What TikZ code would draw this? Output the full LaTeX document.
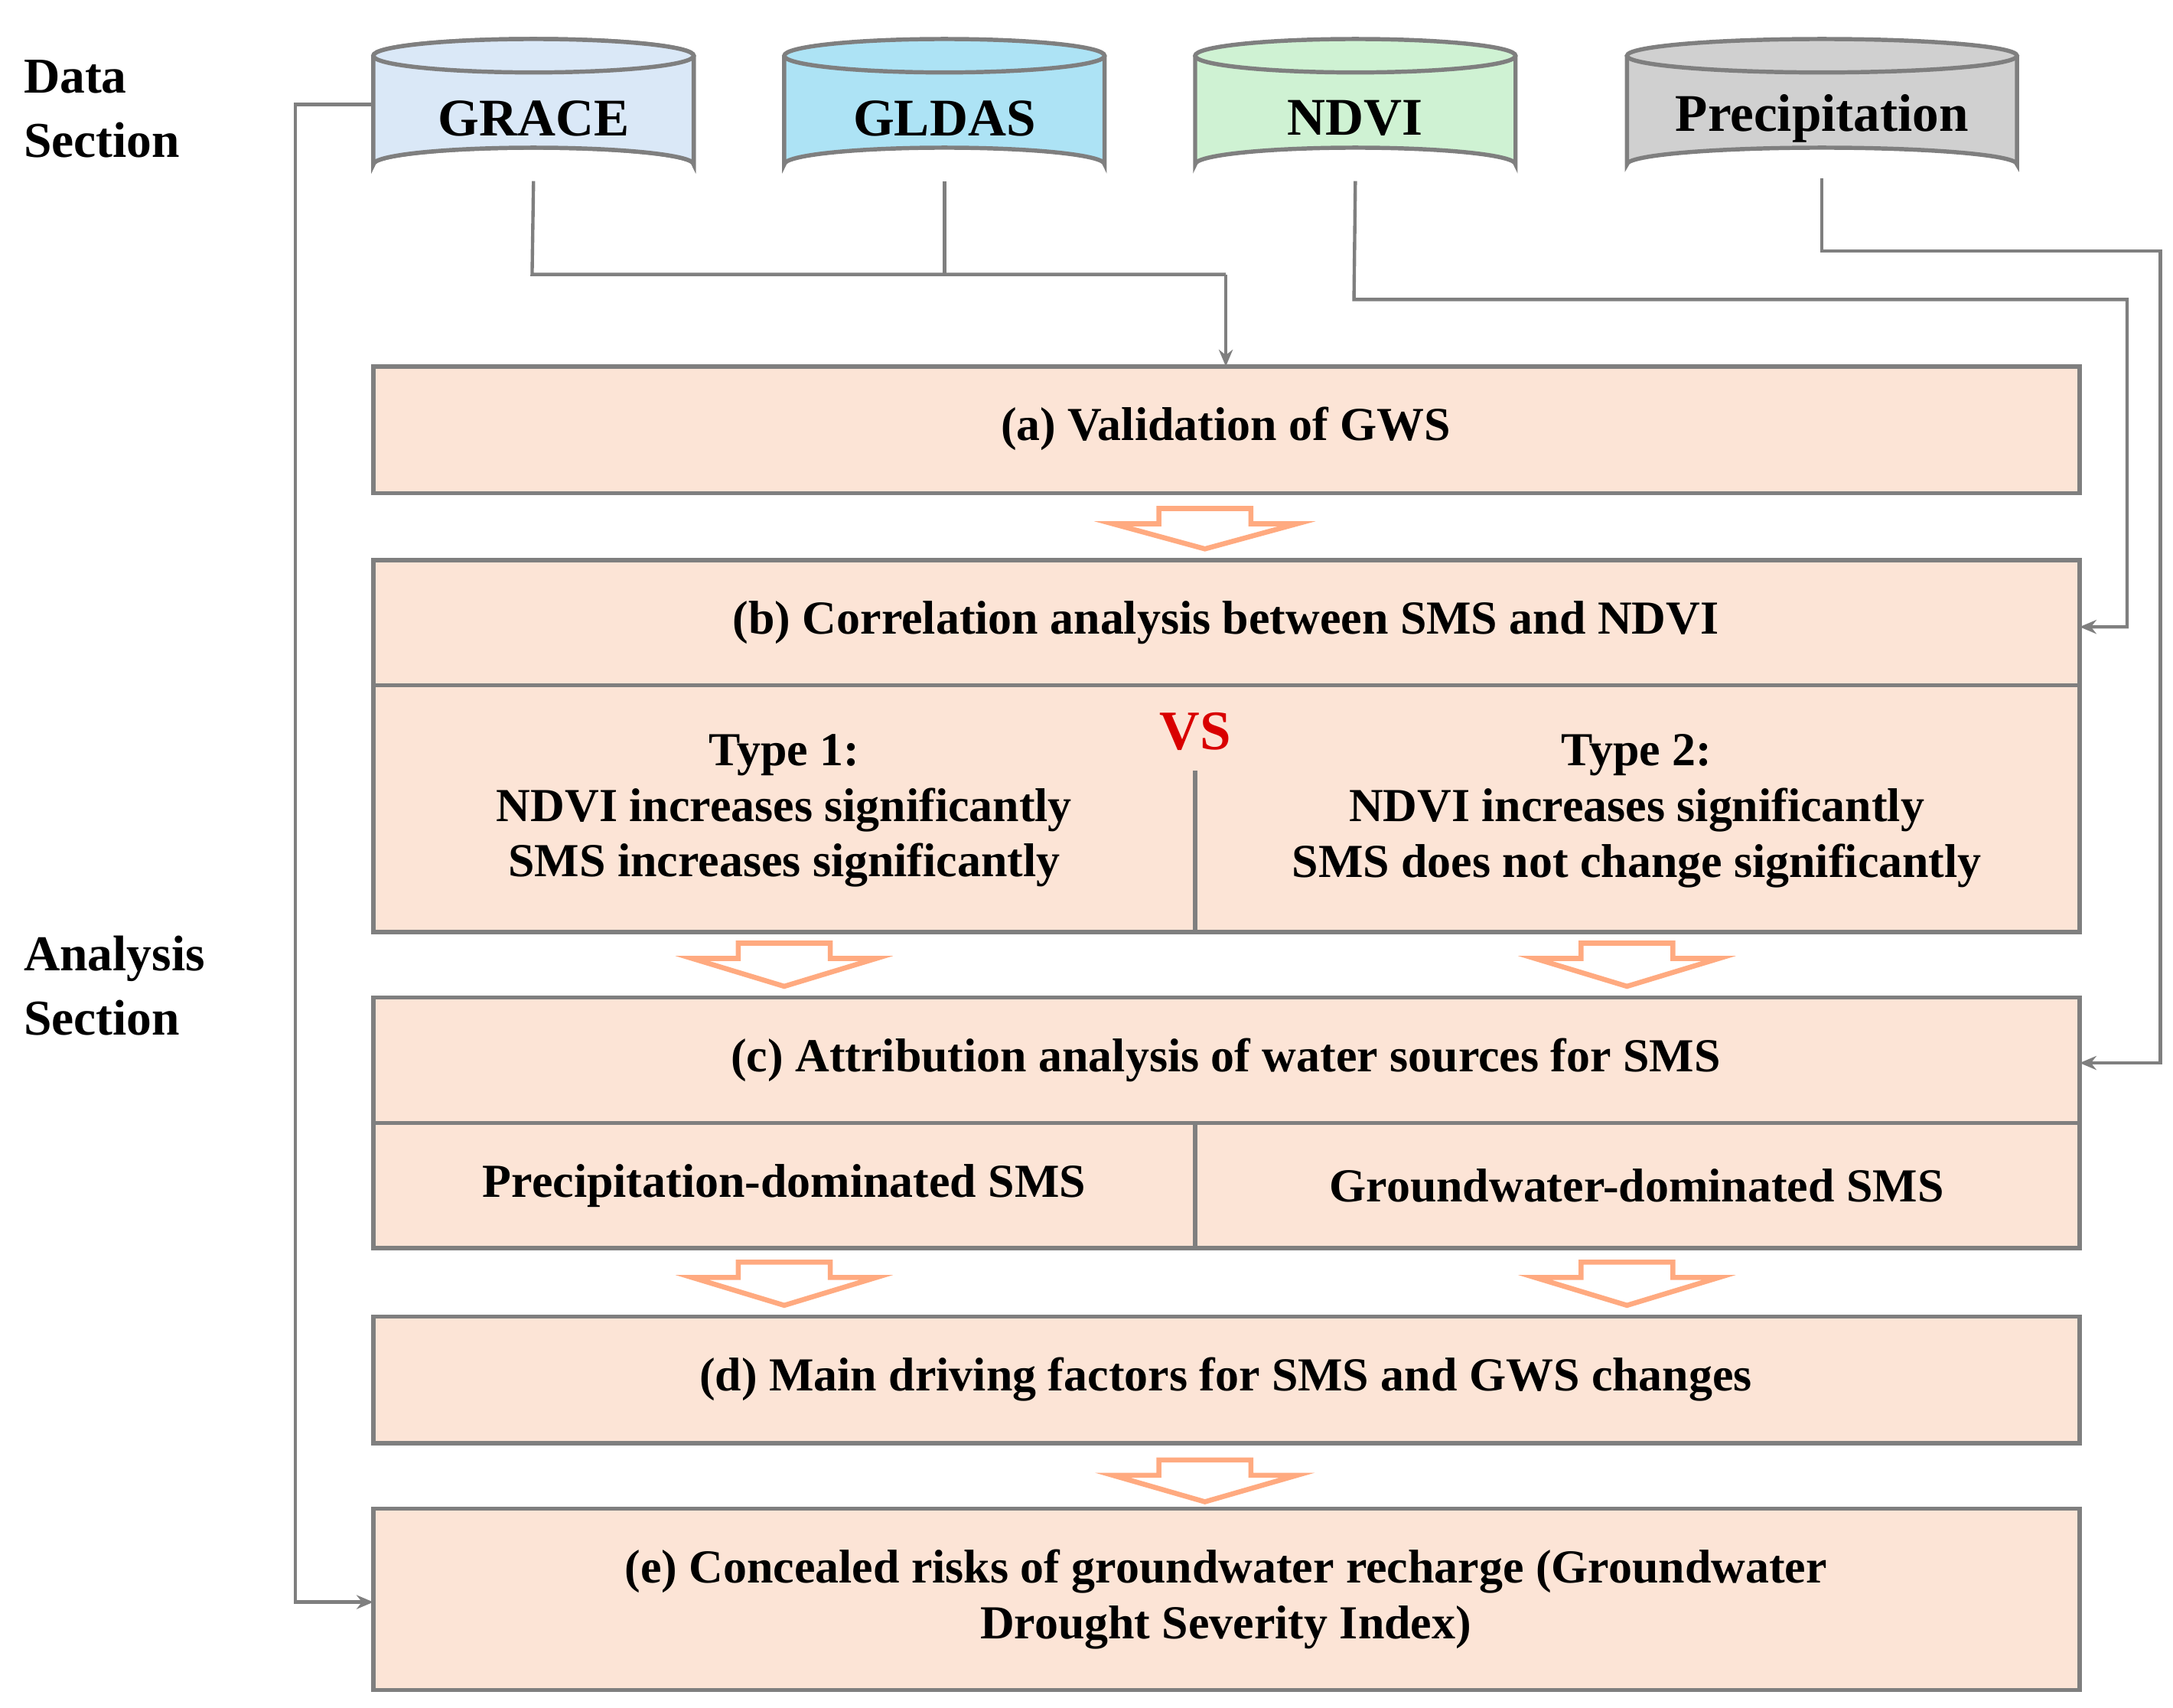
\documentclass[tikz,border=0pt]{standalone}
\usepackage{fontspec}
\setmainfont{Liberation Serif}
\usetikzlibrary{arrows.meta}
\definecolor{bx}{HTML}{FCE4D6}
\definecolor{gr}{HTML}{7F7F7F}
\definecolor{pe}{HTML}{FFAA80}
\begin{document}
\begin{tikzpicture}[x=0.5pt,y=-0.5pt,
  box/.style={draw=gr,line width=1.5pt,fill=bx},
  txt/.style={font=\fontsize{17}{20}\selectfont\bfseries,align=center},
  con/.style={draw=gr,line width=1.2pt},
  arr/.style={con,-{Stealth[length=6pt,width=5pt]}},
  hol/.style={draw=pe,line width=1.8pt,fill=white,line join=miter}]
\useasboundingbox (0,0) rectangle (1560,1226);
% cylinders
\newcommand{\cyl}[5]{% x1 x2 color name label
  \pgfmathsetmacro{\cx}{(#1+#2)/2}\pgfmathsetmacro{\rx}{(#2-#1)/2}
  \fill[#3] (#1,40) -- (#1,118) arc[start angle=180,end angle=360,x radius=\rx,y radius=12] -- (#2,40) -- cycle;
  \draw[gr,line width=1.5pt] (#1,40) -- (#1,118) arc[start angle=180,end angle=360,x radius=\rx,y radius=12] -- (#2,40);
  \draw[gr,line width=1.5pt,fill=#3] (\cx,40) ellipse[x radius=\rx,y radius=12];
  \node[txt,font=\fontsize{19}{22}\selectfont\bfseries] (#4) at (\cx,85) {#5};
  \coordinate (#4b) at (\cx,130);}
\cyl{268}{498}{blue!15!cyan!5!white}{grace}{GRACE}
\definecolor{c1}{HTML}{DAE8F7}\definecolor{c2}{HTML}{ADE3F5}\definecolor{c3}{HTML}{CFF2D3}\definecolor{c4}{HTML}{D0D0D0}
\cyl{268}{498}{c1}{grace}{GRACE}
\cyl{563}{793}{c2}{gldas}{GLDAS}
\cyl{858}{1088}{c3}{ndvi}{NDVI}
\cyl{1168}{1448}{c4}{prec}{Precipitation}
% side labels
\node[txt,align=left,anchor=north west,font=\fontsize{18}{23}\selectfont\bfseries] (ds) at (10,36) {Data\\Section};
\node[txt,align=left,anchor=north west,font=\fontsize{18}{23}\selectfont\bfseries] (as) at (10,665) {Analysis\\Section};
% boxes
\draw[box] (268,263) rectangle (1493,354);
\node[txt] (a) at (880,308) {(a) Validation of GWS};
\draw[box] (268,402) rectangle (1493,669);
\draw[con,line width=1.5pt] (268,492) -- (1493,492);
\draw[con,line width=1.5pt] (858,553) -- (858,669);
\node[txt] (b) at (880,447) {(b) Correlation analysis between SMS and NDVI};
\node[txt] (t1) at (563,582) {Type 1:\\NDVI increases significantly\\SMS increases significantly};
\node[txt] (t2) at (1175,582) {Type 2:\\NDVI increases significantly\\SMS does not change significantly};
\node[txt,text=red!85!black,font=\fontsize{20}{22}\selectfont\bfseries] (vs) at (858,525) {VS};
\draw[box] (268,716) rectangle (1493,896);
\draw[con,line width=1.5pt] (268,806) -- (1493,806);
\draw[con,line width=1.5pt] (858,806) -- (858,896);
\node[txt] (c) at (880,761) {(c) Attribution analysis of water sources for SMS};
\node[txt] (c1n) at (563,851) {Precipitation-dominated SMS};
\node[txt] (c2n) at (1175,851) {Groundwater-dominated SMS};
\draw[box] (268,945) rectangle (1493,1036);
\node[txt] (d) at (880,990) {(d) Main driving factors for SMS and GWS changes};
\draw[box] (268,1083) rectangle (1493,1213);
\node[txt] (e) at (880,1148) {(e) Concealed risks of groundwater recharge (Groundwater\\Drought Severity Index)};
% hollow arrows
\newcommand{\hol}[3]{\draw[hol] (#1-33,#2) -- (#1+33,#2) -- (#1+33,#2+11) -- (#1+66,#2+11) -- (#1,#3) -- (#1-66,#2+11) -- (#1-33,#2+11) -- cycle;}
\hol{865}{365}{394}
\hol{563}{677}{708}
\hol{1168}{677}{708}
\hol{563}{906}{937}
\hol{1168}{906}{937}
\hol{865}{1048}{1078}
% connectors
\coordinate (ga) at (268,75);
\coordinate (ea) at (268,1150);
\draw[arr] (ga) -- (212,75) -- (212,1150) -- (ea);
\draw[con] (graceb) -- (382,197) -- (880,197);
\draw[con] (gldasb) -- (678,197);
\draw[arr] (880,197) -- (880,263);
\draw[arr] (ndvib) -- (972,215) -- (1527,215) -- (1527,450) -- (1493,450);
\draw[arr] (1308,128) -- (1308,180) -- (1551,180) -- (1551,763) -- (1493,763);
\end{tikzpicture}
\end{document}
